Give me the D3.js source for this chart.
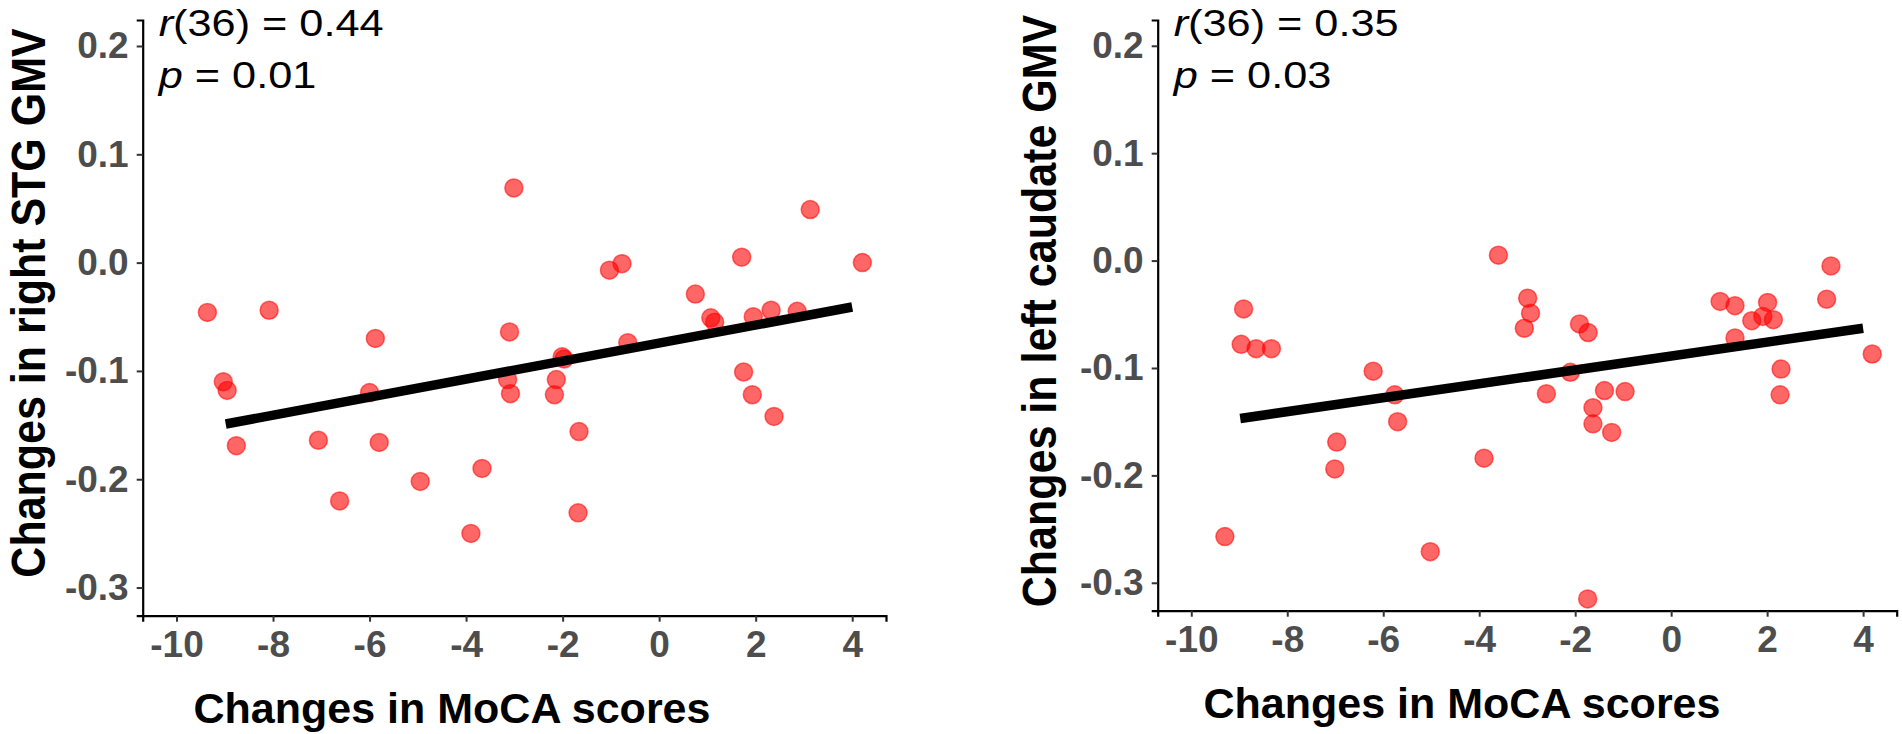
<!DOCTYPE html>
<html>
<head>
<meta charset="utf-8">
<script src="https://cdn.jsdelivr.net/npm/d3@7"></script>
<style>
  body { margin: 0; background: #fff; }
  text { font-family: "Liberation Sans", Arial, sans-serif; }
</style>
</head>
<body>
<div id="container"></div>
<script>
/* CONSTANTS AND GLOBALS */
const width = 1902;
const height = 734;

// shared scale limits and ticks
const xDomain = [-10.7, 4.7];
const yDomain = [-0.326, 0.224];
const xTicks = [-10, -8, -6, -4, -2, 0, 2, 4];
const yTicks = [0.2, 0.1, 0.0, -0.1, -0.2, -0.3];

// left panel: right STG GMV
const stgMoca = [-9.36, -8.08, -5.88, -3.10, -3.01, -2.01, -1.97, -9.03, -8.95, -6.00,
  -3.14, -3.08, -2.13, -2.17, -8.76, -7.06, -5.80, -1.66, -3.67, -4.95,
  -6.62, -3.90, -1.68, -1.03, -0.77, -0.65, 0.75, 1.07, 1.15, 1.71,
  1.95, 2.32, 2.86, 3.13, 4.21, 1.75, 1.93, 2.38];
const stgGmv = [-0.046, -0.044, -0.070, -0.064, 0.069, -0.087, -0.089, -0.110, -0.118, -0.120,
  -0.108, -0.121, -0.108, -0.122, -0.169, -0.164, -0.166, -0.156, -0.190, -0.202,
  -0.220, -0.250, -0.231, -0.007, -0.001, -0.074, -0.029, -0.051, -0.055, 0.005,
  -0.050, -0.044, -0.045, 0.049, 0.000, -0.101, -0.122, -0.142];
const stgFitX = [-8.98, 4.0];
const stgFitY = [-0.149, -0.041];
const stgStats = ["36", "0.44", "0.01"];

// right panel: left caudate GMV
const caudMoca = [-8.91, -8.96, -8.65, -8.33, -9.30, -6.21, -5.76, -5.70, -6.97, -7.01,
  -5.02, -3.90, -3.60, -2.99, -2.93, -3.06, -2.60, -2.10, -1.91, -1.73,
  -1.39, -0.96, -1.63, -1.63, -1.24, -1.74, 1.02, 1.33, 1.33, 1.68,
  1.91, 2.01, 2.13, 2.29, 2.27, 3.24, 3.33, 4.19];
const caudGmv = [-0.045, -0.078, -0.082, -0.082, -0.257, -0.103, -0.125, -0.150, -0.169, -0.194,
  -0.271, -0.184, 0.005, -0.035, -0.049, -0.063, -0.124, -0.104, -0.059, -0.067,
  -0.121, -0.122, -0.137, -0.152, -0.160, -0.315, -0.038, -0.042, -0.072, -0.056,
  -0.052, -0.039, -0.055, -0.101, -0.125, -0.036, -0.005, -0.087];
const caudFitX = [-8.98, 4.0];
const caudFitY = [-0.147, -0.063];
const caudStats = ["36", "0.35", "0.03"];

// CREATE SVG
const svg = d3.select("#container")
  .append("svg")
  .attr("width", width)
  .attr("height", height)
  .style("background-color", "white");

function drawPanel(p) {
  const xScale = d3.scaleLinear().domain(xDomain).range([p.left, p.right]);
  const yScale = d3.scaleLinear().domain(yDomain).range([p.bottom, p.top]);

  const g = svg.append("g");

  // AXES
  const xAxis = d3.axisBottom(xScale).tickValues(xTicks).tickSize(6).tickPadding(9);
  const yAxis = d3.axisLeft(yScale).tickValues(yTicks).tickSize(6).tickPadding(8);

  const gx = g.append("g")
    .attr("transform", "translate(0," + p.bottom + ")")
    .call(xAxis);
  const gy = g.append("g")
    .attr("transform", "translate(" + p.left + ",0)")
    .call(yAxis);

  [gx, gy].forEach(a => {
    a.select(".domain").attr("stroke", "black").attr("stroke-width", 2.2);
    a.selectAll(".tick line").attr("stroke", "#333").attr("stroke-width", 2);
    a.selectAll(".tick text")
      .attr("fill", "#4d4d4d")
      .style("font-size", "37px")
      .style("font-weight", "bold")
      .text(d => d3.format(a === gx ? "d" : ".1f")(d).replace("−", "-"));
  });

  // POINTS
  const pts = p.xs.map((x, i) => ({ x: x, y: p.ys[i] }));
  g.selectAll("circle.pt")
    .data(pts)
    .join("circle")
    .attr("class", "pt")
    .attr("cx", d => xScale(d.x))
    .attr("cy", d => yScale(d.y))
    .attr("r", 9)
    .attr("fill", "#ff0000")
    .attr("fill-opacity", 0.6)
    .attr("stroke", "#ff0000")
    .attr("stroke-opacity", 0.55)
    .attr("stroke-width", 1.5);

  // FIT LINE
  const line = d3.line().x(d => xScale(d[0])).y(d => yScale(d[1]));
  g.append("path")
    .attr("d", line(p.fitX.map((x, i) => [x, p.fitY[i]])))
    .attr("stroke", "black")
    .attr("stroke-width", 9.5)
    .attr("fill", "none");

  // STATS ANNOTATION
  const ann = g.append("g")
    .attr("transform", "translate(" + (p.left + 16) + ",0) scale(1.17,1)");
  const t1 = ann.append("text").attr("y", 36).style("font-size", "37px");
  t1.append("tspan").style("font-style", "italic").text("r");
  t1.append("tspan").text("(" + p.stats[0] + ") = " + p.stats[1]);
  const t2 = ann.append("text").attr("y", 88).style("font-size", "37px");
  t2.append("tspan").style("font-style", "italic").text("p");
  t2.append("tspan").text(" = " + p.stats[2]);

  // AXIS TITLES
  g.append("text")
    .attr("x", p.xTitleX)
    .attr("y", p.bottom + 107)
    .attr("text-anchor", "middle")
    .style("font-size", "43px")
    .style("font-weight", "bold")
    .text("Changes in MoCA scores");

  g.append("text")
    .attr("transform", "translate(" + p.yTitleX + "," + p.yTitleY + ") rotate(-90) scale(1,1.12)")
    .attr("text-anchor", "middle")
    .style("font-size", "43px")
    .style("font-weight", "bold")
    .text(p.yTitle);
}

drawPanel({
  left: 142.7, right: 886, top: 20, bottom: 615.7,
  xs: stgMoca, ys: stgGmv, fitX: stgFitX, fitY: stgFitY, stats: stgStats,
  xTitleX: 452, yTitleX: 45, yTitleY: 303,
  yTitle: "Changes in right STG GMV"
});

drawPanel({
  left: 1157.7, right: 1896.7, top: 20, bottom: 610.7,
  xs: caudMoca, ys: caudGmv, fitX: caudFitX, fitY: caudFitY, stats: caudStats,
  xTitleX: 1462, yTitleX: 1056, yTitleY: 311,
  yTitle: "Changes in left caudate GMV"
});
</script>
</body>
</html>
